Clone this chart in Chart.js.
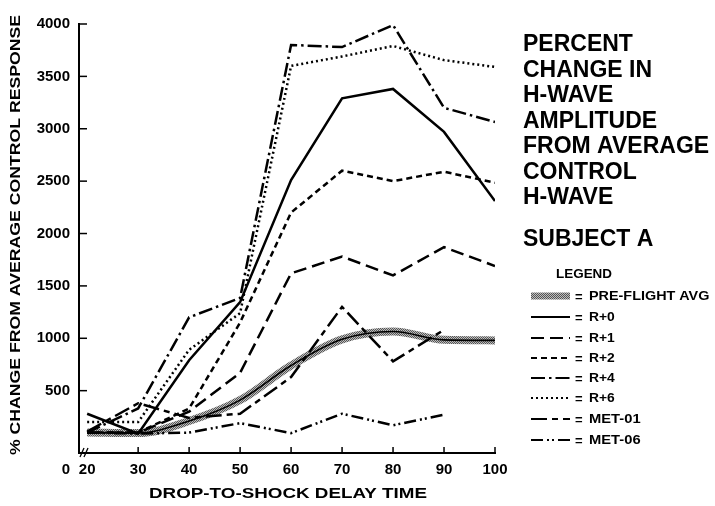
<!DOCTYPE html>
<html>
<head>
<meta charset="utf-8">
<script src="https://cdn.jsdelivr.net/npm/chart.js@4.4.0/dist/chart.umd.min.js"></script>
<style>
  html, body { margin: 0; padding: 0; background: #fff; }
  #wrap { width: 715px; height: 506px; position: relative; }
</style>
</head>
<body>
<div id="wrap"><canvas id="chart"></canvas></div>
<script>
// Dados (% de mudança da resposta média de controle)
const delays = [20, 30, 40, 50, 60, 70, 80, 90, 100];
const yTicks = [500, 1000, 1500, 2000, 2500, 3000, 3500, 4000];

const preFlight = [100, 95, 210, 410, 740, 990, 1065, 985, 980];
const r0 = [280, 90, 790, 1345, 2510, 3290, 3380, 2970, 2310];
const r1 = [100, 100, 300, 670, 1620, 1780, 1600, 1870, 1690];
const r2 = [100, 100, 330, 1150, 2200, 2600, 2500, 2590, 2485];
const r4 = [100, 330, 1200, 1385, 3800, 3780, 3990, 3200, 3065];
const r6 = [200, 200, 890, 1240, 3600, 3690, 3790, 3655, 3590];
const met01 = [110, 380, 240, 280, 630, 1300, 780, 1080, null];
const met06 = [100, 90, 100, 190, 95, 280, 170, 270, null];

const titleLines = ['PERCENT', 'CHANGE IN', 'H-WAVE', 'AMPLITUDE', 'FROM AVERAGE', 'CONTROL', 'H-WAVE'];

const FONT = '"Liberation Sans", Arial, sans-serif';

// textura pontilhada cinza para a média pré-voo
function stipple() {
    const p = document.createElement('canvas');
    p.width = 2; p.height = 2;
    const c = p.getContext('2d');
    c.fillStyle = '#bdbdbd'; c.fillRect(0, 0, 2, 2);
    c.fillStyle = '#555'; c.fillRect(0, 0, 1, 1); c.fillRect(1, 1, 1, 1);
    return c.createPattern(p, 'repeat');
}
const grayPattern = stipple();

function toPoints(arr) {
    return delays.map((d, i) => ({ x: d, y: arr[i] }));
}

function lineSet(label, arr, dash, width) {
    return {
        label: label,
        data: toPoints(arr),
        borderColor: '#000',
        borderWidth: width || 2.5,
        borderDash: dash,
        pointRadius: 0,
        tension: 0,
        spanGaps: false,
        fill: false,
        order: 1
    };
}

const datasets = [
    {
        label: 'PRE-FLIGHT AVG',
        data: toPoints(preFlight),
        borderColor: grayPattern,
        borderWidth: 8,
        pointRadius: 0,
        tension: 0.4,
        cubicInterpolationMode: 'monotone',
        fill: false,
        order: 10 // desenhado por baixo
    },
    Object.assign(lineSet('pre-flight center', preFlight, [], 1.6), { tension: 0.4, cubicInterpolationMode: 'monotone', order: 0 }),
    lineSet('R+0', r0, []),
    lineSet('R+1', r1, [13, 6]),
    lineSet('R+2', r2, [6, 4]),
    lineSet('R+4', r4, [14, 4, 2.5, 4]),
    lineSet('R+6', r6, [2, 3]),
    lineSet('MET-01', met01, [16, 5, 6, 5]),
    lineSet('MET-06', met06, [12, 4, 2, 3, 2, 4])
];

// legenda: índice do dataset e posição vertical
const legendRows = [
    { ds: 0, text: 'PRE-FLIGHT AVG', y: 296 },
    { ds: 2, text: 'R+0', y: 317 },
    { ds: 3, text: 'R+1', y: 338 },
    { ds: 4, text: 'R+2', y: 358 },
    { ds: 5, text: 'R+4', y: 378 },
    { ds: 6, text: 'R+6', y: 398 },
    { ds: 7, text: 'MET-01', y: 419 },
    { ds: 8, text: 'MET-06', y: 440 }
];

// texto esticado para caber numa largura
function fitText(ctx, text, x, y, width, font) {
    ctx.save();
    ctx.font = font;
    const w = ctx.measureText(text).width;
    ctx.translate(x, y);
    ctx.scale(width / w, 1);
    ctx.fillText(text, 0, 0);
    ctx.restore();
}

const decorPlugin = {
    id: 'decor',
    afterDraw(chart) {
        const ctx = chart.ctx;
        const xs = chart.scales.x, ys = chart.scales.y;
        const area = chart.chartArea;
        ctx.save();
        ctx.fillStyle = '#000';
        ctx.strokeStyle = '#000';
        ctx.lineWidth = 1.5;

        // marcas do eixo y (para dentro)
        yTicks.forEach(v => {
            const py = ys.getPixelForValue(v);
            ctx.beginPath();
            ctx.moveTo(area.left, py);
            ctx.lineTo(area.left + 8, py);
            ctx.stroke();
        });
        // marcas do eixo x (para cima)
        delays.slice(1).forEach(v => {
            const px = xs.getPixelForValue(v);
            ctx.beginPath();
            ctx.moveTo(px, area.bottom);
            ctx.lineTo(px, area.bottom - 6);
            ctx.stroke();
        });
        // quebra do eixo
        ctx.lineWidth = 1.3;
        [82, 86].forEach(bx => {
            ctx.beginPath();
            ctx.moveTo(bx - 2, area.bottom + 4);
            ctx.lineTo(bx + 2, area.bottom - 5);
            ctx.stroke();
        });

        // "0" no canto
        ctx.font = 'bold 15px ' + FONT;
        ctx.textAlign = 'center';
        ctx.textBaseline = 'middle';
        ctx.fillText('0', 66, 470);

        // títulos dos eixos
        ctx.textAlign = 'left';
        fitText(ctx, 'DROP-TO-SHOCK DELAY TIME', 149, 494, 278, 'bold 15px ' + FONT);
        ctx.save();
        ctx.translate(16, 455);
        ctx.rotate(-Math.PI / 2);
        fitText(ctx, '% CHANGE FROM AVERAGE CONTROL RESPONSE', 0, 0, 440, 'bold 15px ' + FONT);
        ctx.restore();

        // título à direita
        ctx.font = 'bold 23px ' + FONT;
        titleLines.forEach((t, i) => {
            ctx.fillText(t, 523, 45 + i * 25.5);
        });
        ctx.fillText('SUBJECT A', 523, 240);

        // legenda
        fitText(ctx, 'LEGEND', 556, 275, 56, 'bold 12px ' + FONT);
        legendRows.forEach(row => {
            const ds = chart.data.datasets[row.ds];
            ctx.save();
            ctx.beginPath();
            ctx.moveTo(531, row.y);
            ctx.lineTo(570, row.y);
            if (row.ds === 0) {
                ctx.strokeStyle = grayPattern;
                ctx.lineWidth = 7;
            } else {
                ctx.strokeStyle = '#000';
                ctx.lineWidth = 2.2;
                ctx.setLineDash(ds.borderDash || []);
            }
            ctx.stroke();
            ctx.restore();
            ctx.font = 'bold 13px ' + FONT;
            ctx.fillText('=', 575, row.y + 1);
            const w = row.text.length * 8.6;
            fitText(ctx, row.text, 589, row.y + 1, Math.min(w, 121), 'bold 12px ' + FONT);
        });
        ctx.restore();
    }
};

new Chart(document.getElementById('chart'), {
    type: 'line',
    data: { datasets: datasets },
    options: {
        responsive: true,
        maintainAspectRatio: false,
        animation: false,
        layout: { padding: { left: 0, right: 220, top: 24, bottom: 0 } },
        plugins: { legend: { display: false }, tooltip: { enabled: false } },
        scales: {
            x: {
                type: 'linear',
                min: 18.4,
                max: 100,
                afterBuildTicks: scale => { scale.ticks = delays.map(v => ({ value: v })); },
                afterFit: scale => { scale.height = 53; },
                grid: { display: false, drawTicks: false },
                border: { display: true, color: '#000', width: 2 },
                ticks: { color: '#000', font: { family: FONT, size: 15, weight: 'bold' }, padding: 8, maxRotation: 0, callback: v => String(v) }
            },
            y: {
                type: 'linear',
                min: -95,
                max: 4000,
                afterBuildTicks: scale => { scale.ticks = yTicks.map(v => ({ value: v })); },
                afterFit: scale => { scale.width = 79; },
                grid: { display: false, drawTicks: false },
                border: { display: true, color: '#000', width: 2 },
                ticks: { color: '#000', font: { family: FONT, size: 15, weight: 'bold' }, padding: 9, callback: v => String(v) }
            }
        }
    },
    plugins: [decorPlugin]
});
</script>
</body>
</html>
